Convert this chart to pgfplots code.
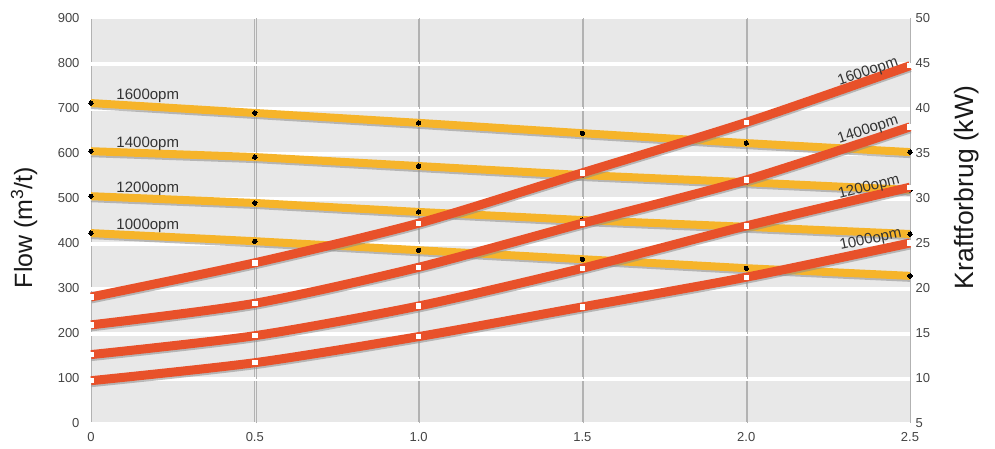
\documentclass[border=0pt]{standalone}
\usepackage{pgfplots}
\pgfplotsset{compat=1.18}
\usepackage{pgfplotstable}
\usepackage{fontspec}
\setmainfont{Liberation Sans}
\definecolor{flowyel}{HTML}{F6B42A}
\definecolor{powred}{HTML}{E8512A}
\definecolor{bgg}{HTML}{E8E8E8}
\definecolor{tickc}{HTML}{444444}

\pgfplotstableread{
x    f1600 f1400 f1200 f1000
0    711   604   504   422
0.5  689   591   489   404
1.0  667   571   469   384
1.5  644   551   451   364
2.0  622   535   436   344
2.5  602   518   420   327
}\flowdata

\pgfplotstableread{
x    p1600 p1400 p1200 p1000
0    19.0  15.9  12.6  9.7
0.5  22.8  18.3  14.7  11.7
1.0  27.2  22.3  18.0  14.6
1.5  32.8  27.2  22.2  17.9
2.0  38.4  32.0  26.9  21.2
2.5  44.7  37.9  31.2  25.0
}\powdata

\pgfplotsset{
  base/.style={
    scale only axis, width=819pt, height=405pt,
    xmin=0, xmax=2.5,
    major tick length=0pt,
    tick label style={font=\fontsize{13}{15}\selectfont, text=tickc},
    /pgf/number format/assume math mode=true,
    clip=false,
  },
  shad/.style={black!45, opacity=0.55, line width=#1, yshift=-2pt, no marks},
  yel/.style={flowyel, line width=8pt, mark=*, mark size=2.2pt,
    mark options={black, line width=0pt}},
  red/.style={powred, line width=9pt, smooth, tension=0.45, mark=square*,
    mark size=2.2pt, mark options={white, line width=0pt}},
}

\begin{document}
\begin{tikzpicture}
\useasboundingbox (-91pt,-25pt) rectangle (904pt,423pt);
\begin{axis}[base,
  ymin=0, ymax=900, ytick={0,100,...,900},
  xtick={0,0.5,1,1.5,2,2.5},
  xticklabels={0,0.5,1.0,1.5,2.0,2.5},
  axis line style={draw=none},
  axis background/.style={fill=bgg},
  grid=major,
  y grid style={white, line width=1.6pt},
  x grid style={black!30, line width=0.9pt},
  extra y ticks={95.5,195.5,295.5,395.5,495.5,595.5,695.5,795.5},
  extra y tick labels={},
  extra y tick style={grid=major, major grid style={black!18, line width=0.8pt}},
  extra x ticks={0.504,1.004,1.504,2.004},
  extra x tick labels={},
  extra x tick style={grid=major, major grid style={white, line width=0.8pt}},
  yticklabel style={xshift=-8pt},
  xticklabel style={yshift=-6pt},
]
\addplot[shad=8pt] table[x=x, y=f1600] {\flowdata};
\addplot[shad=8pt] table[x=x, y=f1400] {\flowdata};
\addplot[shad=8pt] table[x=x, y=f1200] {\flowdata};
\addplot[shad=8pt] table[x=x, y=f1000] {\flowdata};
\addplot[yel] table[x=x, y=f1600] {\flowdata};
\addplot[yel] table[x=x, y=f1400] {\flowdata};
\addplot[yel] table[x=x, y=f1200] {\flowdata};
\addplot[yel] table[x=x, y=f1000] {\flowdata};

\begin{scope}[every node/.style={font=\fontsize{15}{17}\selectfont, text=black!80}]
\node[anchor=base west] at (axis cs:0.067,718) {1600opm};
\node[anchor=base west] at (axis cs:0.067,613) {1400opm};
\node[anchor=base west] at (axis cs:0.067,513) {1200opm};
\node[anchor=base west] at (axis cs:0.067,431) {1000opm};
\end{scope}
\end{axis}

\begin{axis}[base,
  ymin=5, ymax=50, ytick={5,10,...,50},
  axis y line*=right, axis x line=none,
  axis line style={draw=none},
  xtick=\empty,
  yticklabel style={xshift=2pt},
]
\addplot[shad=9pt, smooth, tension=0.45] table[x=x, y=p1600] {\powdata};
\addplot[shad=9pt, smooth, tension=0.45] table[x=x, y=p1400] {\powdata};
\addplot[shad=9pt, smooth, tension=0.45] table[x=x, y=p1200] {\powdata};
\addplot[shad=9pt, smooth, tension=0.45] table[x=x, y=p1000] {\powdata};
\addplot[red] table[x=x, y=p1600] {\powdata};
\addplot[red] table[x=x, y=p1400] {\powdata};
\addplot[red] table[x=x, y=p1200] {\powdata};
\addplot[red] table[x=x, y=p1000] {\powdata};

\begin{scope}[every node/.style={font=\fontsize{15}{17}\selectfont, text=black!80, inner sep=0pt}]
\node[rotate=19] at (axis cs:2.372,44.0) {1600opm};
\node[rotate=18] at (axis cs:2.372,37.55) {1400opm};
\node[rotate=14] at (axis cs:2.375,31.2) {1200opm};
\node[rotate=12] at (axis cs:2.38,25.35) {1000opm};
\end{scope}
\end{axis}

\node[rotate=90, font=\fontsize{25}{28}\selectfont, text=black!90] at (-67pt,195.5pt) {Flow (m\textsuperscript{3}/t)};
\node[rotate=90, font=\fontsize{26.5}{30}\selectfont, text=black!90] at (876pt,235.5pt) {Kraftforbrug (kW)};
\end{tikzpicture}
\end{document}
